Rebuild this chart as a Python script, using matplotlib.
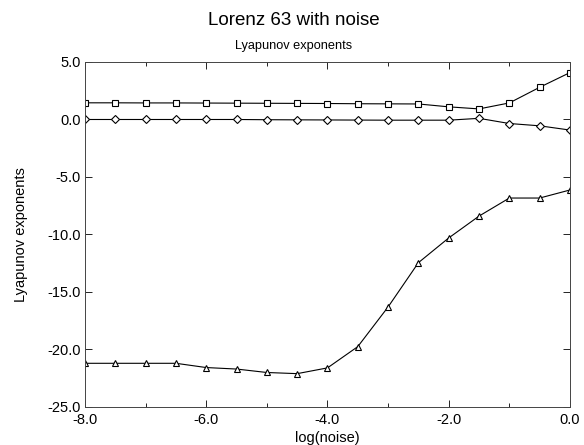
import numpy as np
import matplotlib.pyplot as plt
from matplotlib.ticker import MultipleLocator, FormatStrFormatter

plt.rcParams['font.family'] = ['Liberation Sans', 'DejaVu Sans']

log_noise = [-8.0, -7.5, -7.0, -6.5, -6.0, -5.5, -5.0, -4.5, -4.0,
             -3.5, -3.0, -2.5, -2.0, -1.5, -1.0, -0.5, 0.0]

# three exponents
lam1 = [1.45, 1.45, 1.44, 1.44, 1.43, 1.42, 1.41, 1.40, 1.39,
        1.37, 1.36, 1.35, 1.10, 0.92, 1.44, 2.80, 4.08]
lam2 = [0.0, 0.0, 0.0, 0.0, 0.0, 0.0, -0.02, -0.03, -0.04,
        -0.05, -0.06, -0.06, -0.06, 0.10, -0.35, -0.55, -0.92]
lam3 = [-21.2, -21.2, -21.2, -21.2, -21.57, -21.7, -22.0, -22.1, -21.6,
        -19.75, -16.3, -12.45, -10.3, -8.4, -6.83, -6.83, -6.13]

fig = plt.figure(figsize=(5.84, 4.45), dpi=100)
ax = fig.add_axes([0.1455, 0.0854, 0.8305, 0.7753])

kw = dict(color='black', linewidth=0.8, markerfacecolor='white',
          markeredgecolor='black', markeredgewidth=0.8)
ax.plot(log_noise, lam1, marker='s', markersize=4.5, **kw)
ax.plot(log_noise, lam2, marker='D', markersize=3.8, **kw)
ax.plot(log_noise, lam3, marker='^', markersize=5, **kw)

ax.set_xlim(-8.0, 0.0)
ax.set_ylim(-25.0, 5.0)
ax.xaxis.set_major_locator(MultipleLocator(2.0))
ax.xaxis.set_minor_locator(MultipleLocator(1.0))
ax.yaxis.set_major_locator(MultipleLocator(5.0))
ax.xaxis.set_major_formatter(FormatStrFormatter('%.1f'))
ax.yaxis.set_major_formatter(FormatStrFormatter('%.1f'))
ax.tick_params(which='both', direction='in', top=True, right=True,
               labelsize=10.5, width=0.6)
ax.tick_params(axis='x', pad=4)
ax.tick_params(axis='y', pad=3)
ax.tick_params(which='major', length=5)
ax.tick_params(which='minor', length=3)
for s in ax.spines.values():
    s.set_linewidth(0.7)
    s.set_color('#444444')

ax.set_xlabel('log(noise)', fontsize=10.5, labelpad=3)
ax.set_ylabel('Lyapunov exponents', fontsize=10.5, labelpad=14)
fig.text(0.503, 0.955, 'Lorenz 63 with noise', ha='center', va='center', fontsize=13.5)
fig.text(0.503, 0.896, 'Lyapunov exponents', ha='center', va='center', fontsize=9.2)

plt.savefig('out.png', dpi=100)
plt.close()
